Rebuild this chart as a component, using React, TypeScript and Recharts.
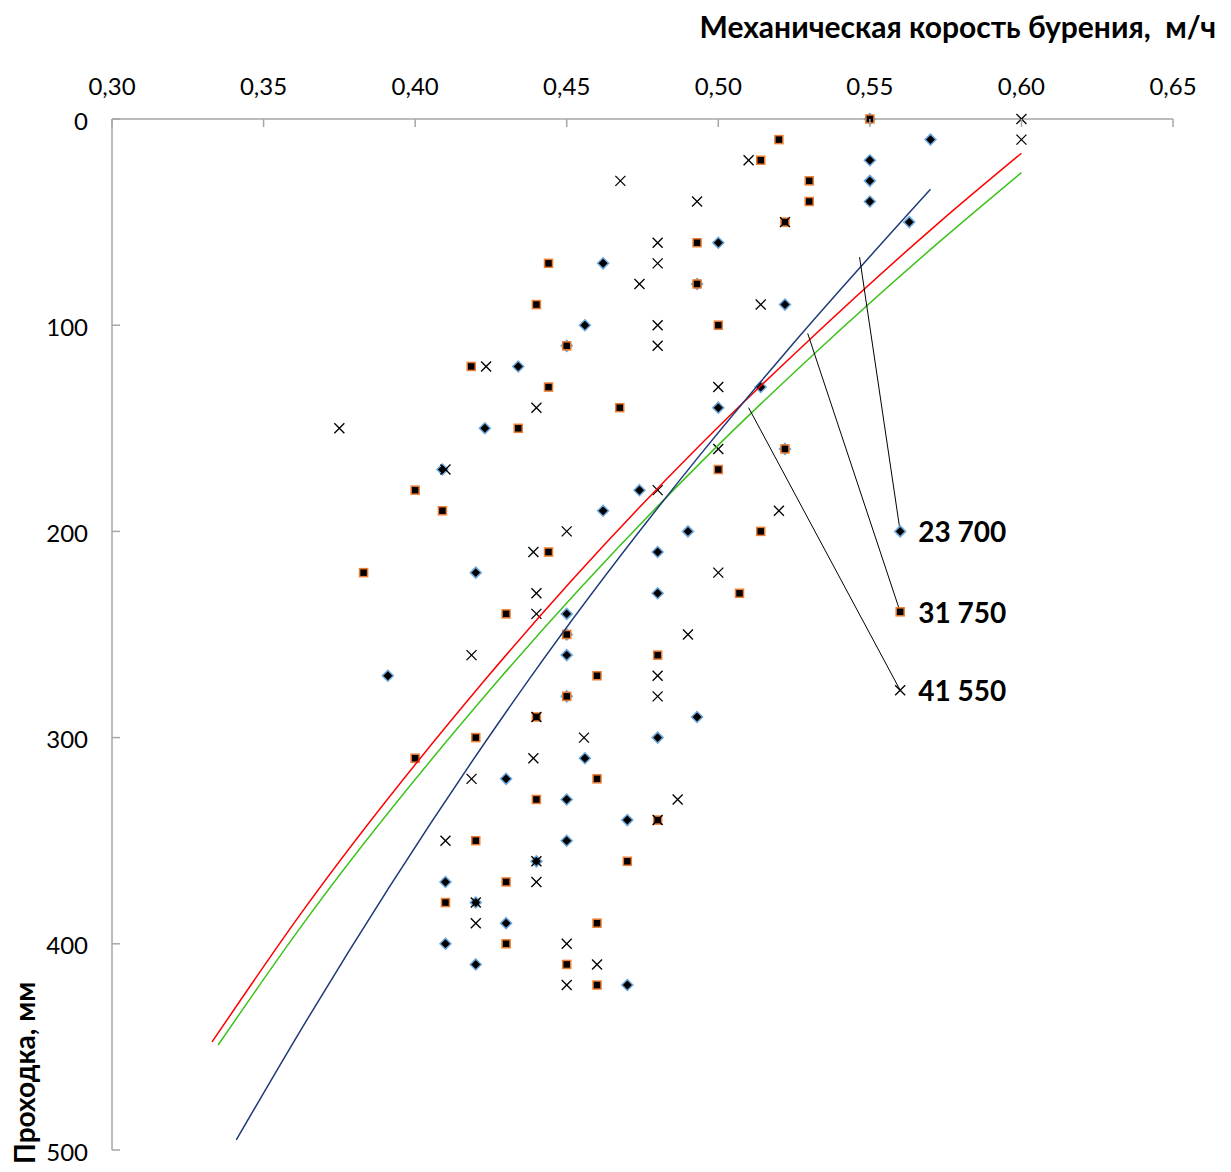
import React from "react";
import { ComposedChart, XAxis, YAxis, Scatter } from "recharts";

// проходка, мм
const depths = [
    0, 10, 20, 30, 40, 50, 60, 70, 80, 90, 100, 110, 120, 130, 140, 150, 160, 170, 180, 190, 200,
    210, 220, 230, 240, 250, 260, 270, 280, 290, 300, 310, 320, 330, 340, 350, 360, 370, 380, 390,
    400, 410, 420,
];

// механическая скорость, м/ч
const speed23700 = [
    0.55, 0.57, 0.55, 0.55, 0.55, 0.563, 0.5, 0.462, 0.493, 0.522, 0.456, 0.45, 0.434, 0.514, 0.5,
    0.423, 0.522, 0.409, 0.474, 0.462, 0.49, 0.48, 0.42, 0.48, 0.45, 0.45, 0.45, 0.391, 0.45, 0.493,
    0.48, 0.456, 0.43, 0.45, 0.47, 0.45, 0.44, 0.41, 0.42, 0.43, 0.41, 0.42, 0.47,
];
const speed31750 = [
    0.55, 0.52, 0.514, 0.53, 0.53, 0.522, 0.493, 0.444, 0.493, 0.44, 0.5, 0.45, 0.4185, 0.444, 0.4675,
    0.434, 0.522, 0.5, 0.4, 0.409, 0.514, 0.444, 0.383, 0.507, 0.43, 0.45, 0.48, 0.46, 0.45, 0.44,
    0.42, 0.4, 0.46, 0.44, 0.48, 0.42, 0.47, 0.43, 0.41, 0.46, 0.43, 0.45, 0.46,
];
const speed41550 = [
    0.6, 0.6, 0.51, 0.4677, 0.493, 0.522, 0.48, 0.48, 0.474, 0.514, 0.48, 0.48, 0.4234, 0.5, 0.44,
    0.375, 0.5, 0.41, 0.48, 0.52, 0.45, 0.439, 0.5, 0.44, 0.44, 0.49, 0.4186, 0.48, 0.48, 0.44,
    0.4557, 0.439, 0.4186, 0.4866, 0.48, 0.41, 0.44, 0.44, 0.42, 0.42, 0.45, 0.46, 0.45,
];

// линии тренда (точки)
const trendRedX = [0.333, 0.362, 0.423, 0.494, 0.5265, 0.573, 0.6];
const trendRedY = [447.6, 386, 272.1, 158.1, 112, 50, 16.6];
const trendGreenX = [0.335, 0.362, 0.4275, 0.494, 0.533, 0.573, 0.6];
const trendGreenY = [449.1, 392.4, 272.1, 166.9, 112, 59.5, 26];
const trendBlueX = [0.341, 0.3643, 0.4374, 0.494, 0.5229, 0.57];
const trendBlueY = [495.1, 436.9, 272.1, 162.9, 112, 34.1];

// подписи серий и выноски
const seriesNames = ["23 700", "31 750", "41 550"];
const labelX = [0.56, 0.56, 0.56];
const labelY = [200, 239, 277];
const leaderStartX = [0.5466, 0.5295, 0.51];
const leaderStartY = [67, 104, 140];

const xTicks = [0.3, 0.35, 0.4, 0.45, 0.5, 0.55, 0.6, 0.65];
const yTicks = [0, 100, 200, 300, 400, 500];

const font = "Lato, 'Open Sans', sans-serif";
const axisColor = "#a6a6a6";

const toPoints = (xs: number[], ys: number[]) => xs.map((x, i) => ({ x, y: ys[i] }));

const Diamond = ({ cx, cy }: any) => (
    <polygon
        points={`${cx},${cy - 5.5} ${cx + 5.5},${cy} ${cx},${cy + 5.5} ${cx - 5.5},${cy}`}
        fill="#000"
        stroke="#6fa8dc"
        strokeWidth={1.5}
    />
);
const Square = ({ cx, cy }: any) => (
    <rect x={cx - 4} y={cy - 4} width={8} height={8} fill="#000" stroke="#ed7d31" strokeWidth={1.5} />
);
const Cross = ({ cx, cy }: any) => (
    <g stroke="#000" strokeWidth={1.3}>
        <line x1={cx - 5} y1={cy - 5} x2={cx + 5} y2={cy + 5} />
        <line x1={cx - 5} y1={cy + 5} x2={cx + 5} y2={cy - 5} />
    </g>
);
const markers = [Diamond, Square, Cross];

const XTick = ({ x, y, payload }: any) => (
    <g>
        <line x1={x} y1={y} x2={x} y2={y + 8} stroke={axisColor} strokeWidth={1.5} />
        <text x={x} y={y - 34} textAnchor="middle" dominantBaseline="central" fontFamily={font} fontSize={24} fill="#000">
            {payload.value.toFixed(2).replace(".", ",")}
        </text>
    </g>
);
const YTick = ({ x, y, payload }: any) => (
    <g>
        <line x1={x} y1={y} x2={x + 8} y2={y} stroke={axisColor} strokeWidth={1.5} />
        <text x={x - 24} y={y + 1} textAnchor="end" dominantBaseline="central" fontFamily={font} fontSize={24} fill="#000">
            {payload.value}
        </text>
    </g>
);

const noDot = () => <g />;

const App: React.FC = () => {
    const series = [speed23700, speed31750, speed41550].map((s) => toPoints(s, depths));
    const trends = [
        { data: toPoints(trendRedX, trendRedY), color: "#ff0000" },
        { data: toPoints(trendGreenX, trendGreenY), color: "#3cc21a" },
        { data: toPoints(trendBlueX, trendBlueY), color: "#1f3a78" },
    ];

    return (
        <div style={{ position: "relative", width: 1215, height: 1164 }}>
            <ComposedChart width={1215} height={1164} margin={{ top: 0, right: 50, bottom: 22, left: 0 }}>
                <XAxis
                    type="number"
                    dataKey="x"
                    orientation="top"
                    domain={[0.3, 0.65]}
                    ticks={xTicks}
                    interval={0}
                    height={111}
                    tickSize={0}
                    tickMargin={0}
                    tick={<XTick />}
                    axisLine={{ stroke: axisColor, strokeWidth: 1.5 }}
                />
                <YAxis
                    type="number"
                    dataKey="y"
                    reversed
                    domain={[0, 500]}
                    ticks={yTicks}
                    interval={0}
                    width={104}
                    tickSize={0}
                    tickMargin={0}
                    tick={<YTick />}
                    axisLine={{ stroke: axisColor, strokeWidth: 1.5 }}
                />
                {series.map((data, i) => {
                    const M = markers[i];
                    return <Scatter key={`s-${i}`} data={data} shape={<M />} isAnimationActive={false} />;
                })}
                {trends.map((t, i) => (
                    <Scatter
                        key={`t-${i}`}
                        data={t.data}
                        line={{ stroke: t.color, strokeWidth: 1.5 }}
                        lineType="joint"
                        lineJointType="monotoneX"
                        shape={noDot}
                        isAnimationActive={false}
                    />
                ))}
                {seriesNames.map((name, i) => (
                    <Scatter
                        key={`l-${i}`}
                        data={[
                            { x: leaderStartX[i], y: leaderStartY[i] },
                            { x: labelX[i], y: labelY[i] },
                        ]}
                        line={{ stroke: "#000", strokeWidth: 1 }}
                        lineType="joint"
                        shape={noDot}
                        isAnimationActive={false}
                    />
                ))}
                {seriesNames.map((name, i) => {
                    const M = markers[i];
                    return (
                        <Scatter
                            key={`n-${i}`}
                            data={[{ x: labelX[i], y: labelY[i], name }]}
                            isAnimationActive={false}
                            shape={(p: any) => (
                                <g>
                                    <M cx={p.cx} cy={p.cy} />
                                    <text
                                        x={p.cx + 18}
                                        y={p.cy}
                                        dominantBaseline="central"
                                        fontFamily={font}
                                        fontWeight="bold"
                                        fontSize={28}
                                        fill="#000"
                                    >
                                        {p.payload.name}
                                    </text>
                                </g>
                            )}
                        />
                    );
                })}
            </ComposedChart>
            <svg width={1215} height={1164} style={{ position: "absolute", left: 0, top: 0, pointerEvents: "none" }}>
                <text x={1208} y={30} textAnchor="end" fontFamily={font} fontWeight="bold" fontSize={30} fill="#000">
                    Механическая корость бурения,&#160; м/ч
                </text>
                <text
                    x={27}
                    y={1156}
                    transform="rotate(-90 27 1156)"
                    textAnchor="start"
                    fontFamily={font}
                    fontWeight="bold"
                    fontSize={28}
                    fill="#000"
                >
                    Проходка, мм
                </text>
            </svg>
        </div>
    );
};

export default App;
